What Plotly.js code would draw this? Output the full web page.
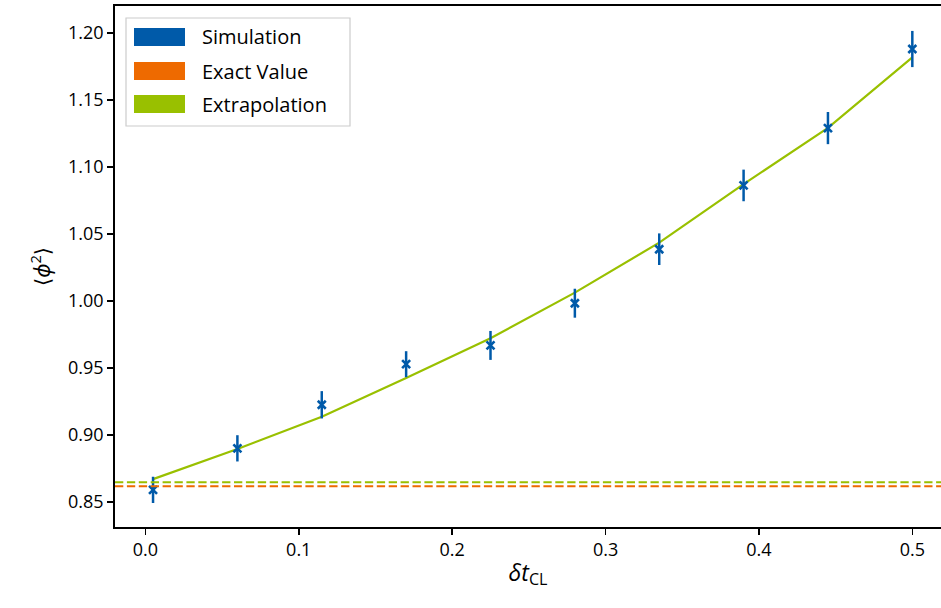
<!DOCTYPE html>
<html>
<head>
<meta charset="utf-8">
<script src="https://cdn.plot.ly/plotly-3.0.1.min.js"></script>
<style>html,body{margin:0;padding:0;background:#fff;overflow:hidden}</style>
</head>
<body>
<div id="chart" style="width:941px;height:608px"></div>
<script>
// Data
const dtCL = [0.005, 0.06, 0.115, 0.17, 0.225, 0.28, 0.335, 0.39, 0.445, 0.5];
const phi2Sim = [0.859, 0.890, 0.9225, 0.9528, 0.9668, 0.9983, 1.0386, 1.0862, 1.1290, 1.1880];
const phi2Err = [0.0098, 0.0098, 0.0102, 0.0097, 0.0108, 0.0108, 0.0118, 0.0118, 0.0120, 0.0135];
const phi2Fit = [0.867, 0.8895, 0.9135, 0.9424, 0.9722, 1.0062, 1.0435, 1.0872, 1.1292, 1.1818];
const exactValue = 0.8617;
const extrapValue = 0.8647;
const legendLabels = ["Simulation", "Exact Value", "Extrapolation"];

const BLUE = "#005AA9", ORANGE = "#EE6A00", GREEN = "#99C000";
const FONT = "Open Sans, Noto Sans, DejaVu Sans, sans-serif";

const traces = [
  {x: dtCL, y: phi2Fit, mode: "lines", line: {color: GREEN, width: 2.2}, showlegend: false, hoverinfo: "skip"},
  {x: dtCL, y: phi2Sim, mode: "markers", showlegend: false,
   marker: {symbol: "x-thin", size: 8, color: BLUE, line: {color: BLUE, width: 2.6}},
   error_y: {type: "data", array: phi2Err, visible: true, color: BLUE, thickness: 2.5, width: 0}}
];

const legendColors = [BLUE, ORANGE, GREEN];
const shapes = [
  {type: "line", xref: "paper", x0: 0, x1: 1, yref: "y", y0: extrapValue, y1: extrapValue,
   line: {color: GREEN, width: 2.2, dash: "8.3px,3.6px"}},
  {type: "line", xref: "paper", x0: 0, x1: 1, yref: "y", y0: exactValue, y1: exactValue,
   line: {color: ORANGE, width: 2.2, dash: "8.3px,3.6px"}},
  // legend frame
  {type: "rect", xref: "paper", yref: "paper",
   x0: (126 - 115) / 826, x1: (350 - 115) / 826, y0: 1 - (126 - 6) / 521, y1: 1 - (18 - 6) / 521,
   line: {color: "#cccccc", width: 1.2}, fillcolor: "rgba(255,255,255,0.8)", layer: "above"}
];
const annotations = [];
const rowY = [37, 71, 104];
legendLabels.forEach((lab, i) => {
  const yc = rowY[i];
  shapes.push({type: "rect", xref: "paper", yref: "paper", layer: "above",
    x0: (134 - 115) / 826, x1: (185 - 115) / 826,
    y0: 1 - (yc + 9 - 6) / 521, y1: 1 - (yc - 9 - 6) / 521,
    line: {width: 0}, fillcolor: legendColors[i]});
  annotations.push({xref: "paper", yref: "paper", x: (200 - 115) / 826, y: 1 - (yc - 6) / 521,
    xanchor: "left", yanchor: "middle", showarrow: false, text: lab,
    font: {family: FONT, size: 20, color: "#000"}});
});

const layout = {
  width: 941, height: 608,
  margin: {l: 115, r: 0, t: 6, b: 81},
  paper_bgcolor: "#fff", plot_bgcolor: "#fff",
  font: {family: FONT, size: 18, color: "#000"},
  showlegend: false,
  xaxis: {
    range: [-0.0198, 0.5187], tickvals: [0, 0.1, 0.2, 0.3, 0.4, 0.5],
    ticktext: ["0.0", "0.1", "0.2", "0.3", "0.4", "0.5"],
    ticks: "outside", ticklen: 6, tickwidth: 1.5, tickcolor: "#000",
    showline: true, linecolor: "#000", linewidth: 1.8, mirror: true,
    showgrid: false, zeroline: false,
    tickfont: {family: FONT, size: 18},
    title: {text: "<i>δt</i><sub>CL</sub>", font: {family: FONT, size: 23}, standoff: 4}
  },
  yaxis: {
    range: [0.8313, 1.2201], tickvals: [0.85, 0.90, 0.95, 1.00, 1.05, 1.10, 1.15, 1.20],
    ticktext: ["0.85", "0.90", "0.95", "1.00", "1.05", "1.10", "1.15", "1.20"],
    ticks: "outside", ticklen: 6, tickwidth: 1.5, tickcolor: "#000",
    showline: true, linecolor: "#000", linewidth: 1.8, mirror: false,
    showgrid: false, zeroline: false,
    tickfont: {family: FONT, size: 18},
    title: {text: "⟨<i>ϕ</i><sup>2</sup>⟩", font: {family: FONT, size: 21}, standoff: 12}
  },
  shapes: shapes,
  annotations: annotations
};

Plotly.newPlot("chart", traces, layout, {displayModeBar: false, staticPlot: true});
</script>
</body>
</html>
